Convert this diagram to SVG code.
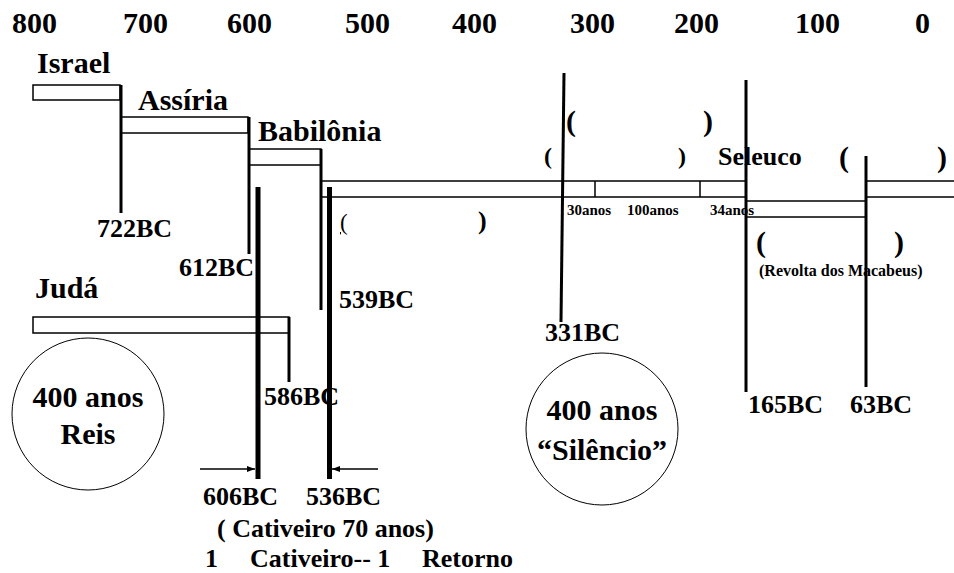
<svg xmlns="http://www.w3.org/2000/svg" width="954" height="573" viewBox="0 0 954 573">
<defs>
<style>
text{font-family:"Liberation Serif","Times New Roman",serif;font-weight:bold;fill:#000}
.yr{font-size:30px}
.big{font-size:30px}
.lbl{font-size:26px}
.sm{font-size:15px}
.xs{font-size:16px}
.box{fill:none;stroke:#000;stroke-width:1.5}
.mk{stroke:#000;stroke-width:3;fill:none}
.thk{stroke:#000;stroke-width:5;fill:none}
.thin{stroke:#000;stroke-width:1.5;fill:none}
.circ{fill:none;stroke:#000;stroke-width:1}
.mid{text-anchor:middle}
</style>
<marker id="ah" viewBox="0 0 8 8" refX="8" refY="4" markerWidth="8" markerHeight="8" markerUnits="userSpaceOnUse" orient="auto">
<path d="M0,1 L8,4 L0,7 Z" fill="#000"/>
</marker>
</defs>
<rect width="954" height="573" fill="#fff"/>

<g id="years">
<text class="yr" x="12" y="33">800</text>
<text class="yr" x="123" y="33">700</text>
<text class="yr" x="227" y="33">600</text>
<text class="yr" x="345" y="33">500</text>
<text class="yr" x="452" y="33">400</text>
<text class="yr" x="570" y="33">300</text>
<text class="yr" x="674" y="33">200</text>
<text class="yr" x="795" y="33">100</text>
<text class="yr" x="915" y="33">0</text>
</g>

<g id="israel">
<text class="big" x="37" y="73">Israel</text>
<rect class="box" x="33" y="85" width="87" height="15"/>
</g>
<g id="assiria">
<text class="big" x="138" y="110">Assíria</text>
<rect class="box" x="121" y="117" width="127" height="16"/>
</g>
<g id="babilonia">
<text class="big" x="258" y="141">Babilônia</text>
<rect class="box" x="249" y="149" width="72" height="16"/>
</g>
<g id="persia">
<path class="box" d="M321,181 H746 M321,197 H746 M595,181 V197 M700,181 V197"/>
<text class="sm" x="567" y="215">30anos</text>
<text class="sm" x="627" y="215">100anos</text>
<text class="sm" x="710" y="215">34anos</text>
</g>
<g id="macabeus">
<rect class="box" x="746" y="201" width="120" height="16"/>
</g>
<g id="roma">
<path class="box" d="M866,181 H954 M866,197 H954"/>
</g>
<g id="juda">
<text class="big" x="35" y="298">Judá</text>
<rect class="box" x="33" y="317" width="256" height="16"/>
</g>

<g id="connectors">
<line class="mk" x1="121" y1="85" x2="121" y2="213"/>
<line class="mk" x1="249" y1="117" x2="249" y2="254"/>
<line class="mk" x1="321" y1="149" x2="321" y2="310"/>
<line class="mk" x1="289" y1="317" x2="289" y2="382"/>
<line class="mk" x1="564" y1="73" x2="561" y2="322"/>
<line class="mk" x1="746" y1="80" x2="746" y2="392"/>
<line class="mk" x1="866" y1="156" x2="866" y2="387"/>
<line class="thk" x1="258" y1="187" x2="258" y2="479"/>
<line class="thk" x1="329.5" y1="187" x2="329.5" y2="479"/>
<line class="thin" x1="200" y1="469" x2="255" y2="469" marker-end="url(#ah)"/>
<line class="thin" x1="378" y1="469" x2="332" y2="469" marker-end="url(#ah)"/>
</g>

<g id="labels">
<text class="lbl" x="97" y="237">722BC</text>
<text class="lbl" x="179" y="276">612BC</text>
<text class="lbl" x="339" y="308">539BC</text>
<text class="lbl" x="264" y="405">586BC</text>
<text class="lbl" x="545" y="341">331BC</text>
<text class="lbl" x="748" y="413">165BC</text>
<text class="lbl" x="850" y="413">63BC</text>
<text class="lbl" x="718" y="165">Seleuco</text>
<text class="xs" x="759" y="276">(Revolta dos Macabeus)</text>
</g>

<g id="parens">
<text class="big" x="566" y="131">(</text>
<text class="big" x="703" y="131">)</text>
<text style="font-size:24px" x="544" y="164">(</text>
<text style="font-size:24px" x="678" y="164">)</text>
<text class="big" x="839" y="167">(</text>
<text class="big" x="937" y="167">)</text>
<text class="big" x="756" y="252">(</text>
<text class="big" x="894" y="252">)</text>
<text style="font-size:23px;font-weight:normal;text-decoration:underline" x="340" y="230">(</text>
<text style="font-size:26px" x="478" y="229">)</text>
</g>

<g id="reis">
<circle class="circ" cx="88" cy="414" r="76"/>
<text class="big mid" x="88" y="407">400 anos</text>
<text class="big mid" x="88" y="444">Reis</text>
</g>
<g id="silencio">
<circle class="circ" cx="602" cy="429" r="76"/>
<text class="big mid" x="602" y="420">400 anos</text>
<text class="big mid" x="602" y="460">“Silêncio”</text>
</g>

<g id="cativeiro">
<text class="lbl" x="203" y="505">606BC</text>
<text class="lbl" x="306" y="505">536BC</text>
<text class="lbl" x="217" y="537">( Cativeiro 70 anos)</text>
<text class="lbl" y="567"><tspan x="205">1</tspan><tspan x="250">Cativeiro-- 1</tspan><tspan x="422">Retorno</tspan></text>
</g>
</svg>
